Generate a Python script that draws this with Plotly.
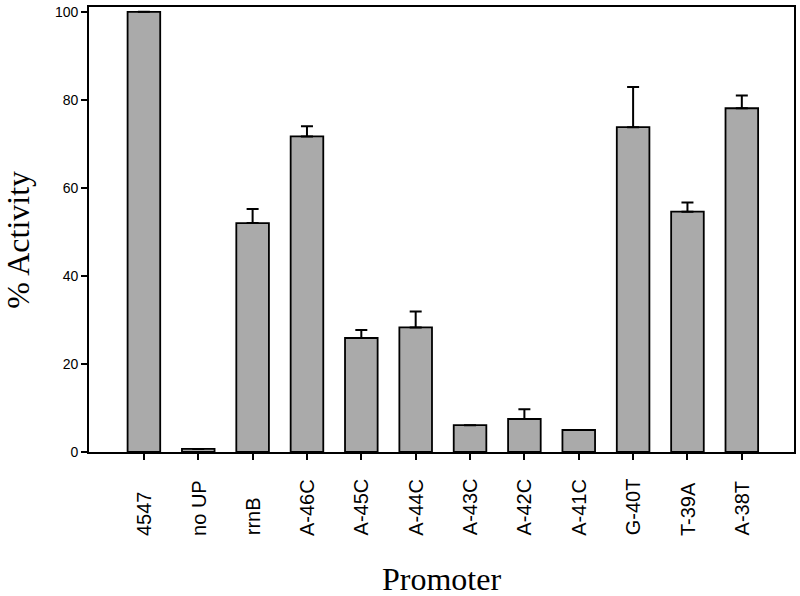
import plotly.graph_objects as go

# Promoter activity data
promoters = ["4547", "no UP", "rrnB", "A-46C", "A-45C", "A-44C",
             "A-43C", "A-42C", "A-41C", "G-40T", "T-39A", "A-38T"]
activity = [100, 0.7, 52.0, 71.7, 25.9, 28.3, 6.1, 7.5, 5.0, 73.8, 54.6, 78.1]
err_up = [0, 0, 3.2, 2.3, 1.8, 3.6, 0, 2.2, 0, 9.1, 2.1, 2.9]

COLORS = {
    'bar': '#aaaaaa',
    'line': '#000000',
    'text': '#000000',
}
SANS = "Liberation Sans, Arial, sans-serif"
SERIF = "Liberation Serif, Times New Roman, serif"

fig = go.Figure()

fig.add_trace(go.Bar(
    x=promoters,
    y=activity,
    width=0.6,
    marker=dict(color=COLORS['bar'], line=dict(color=COLORS['line'], width=1.8)),
    error_y=dict(type='data', symmetric=False, array=err_up,
                 arrayminus=[0] * len(err_up),
                 color=COLORS['line'], thickness=2, width=6),
    showlegend=False,
))

# rotated category labels, bottom-aligned like the original
# (x given as category index so "4547" is not read as a number)
for i, p in enumerate(promoters):
    fig.add_annotation(x=i, xref='x', y=-0.1924, yref='paper',
                       text=p, textangle=-90, showarrow=False,
                       xanchor='center', yanchor='bottom',
                       font=dict(family=SANS, size=20, color=COLORS['text']))

fig.add_annotation(x=0.5, xref='paper', y=-0.286, yref='paper',
                   text="Promoter", showarrow=False,
                   xanchor='center', yanchor='middle',
                   font=dict(family=SERIF, size=32, color=COLORS['text']))
fig.add_annotation(x=-0.1, xref='paper', y=0.476, yref='paper',
                   text="% Activity", textangle=-90, showarrow=False,
                   xanchor='center', yanchor='middle',
                   font=dict(family=SERIF, size=32, color=COLORS['text']))

fig.update_layout(
    width=800, height=596,
    margin=dict(l=89, r=4, t=5, b=144),
    plot_bgcolor='white',
    paper_bgcolor='white',
    font=dict(family=SANS, color=COLORS['text']),
    xaxis=dict(type='category', range=[-1.01, 11.96],
               showticklabels=False, ticks='outside', ticklen=6, tickwidth=1.8,
               tickcolor=COLORS['line'], showline=True, linecolor=COLORS['line'],
               linewidth=1.8, mirror=True, showgrid=False),
    yaxis=dict(range=[0, 101.1], tickvals=[0, 20, 40, 60, 80, 100],
               ticks='outside', ticklen=6, tickwidth=1.8, tickcolor=COLORS['line'],
               tickfont=dict(family=SANS, size=14, color=COLORS['text']),
               showline=True, linecolor=COLORS['line'], linewidth=1.8,
               mirror=True, showgrid=False, zeroline=False),
)

# drop the browser's default body margin so the figure sits at the page corner
fig.write_html("out.html", config={'displayModeBar': False},
               post_script="document.body.style.margin='0';")
